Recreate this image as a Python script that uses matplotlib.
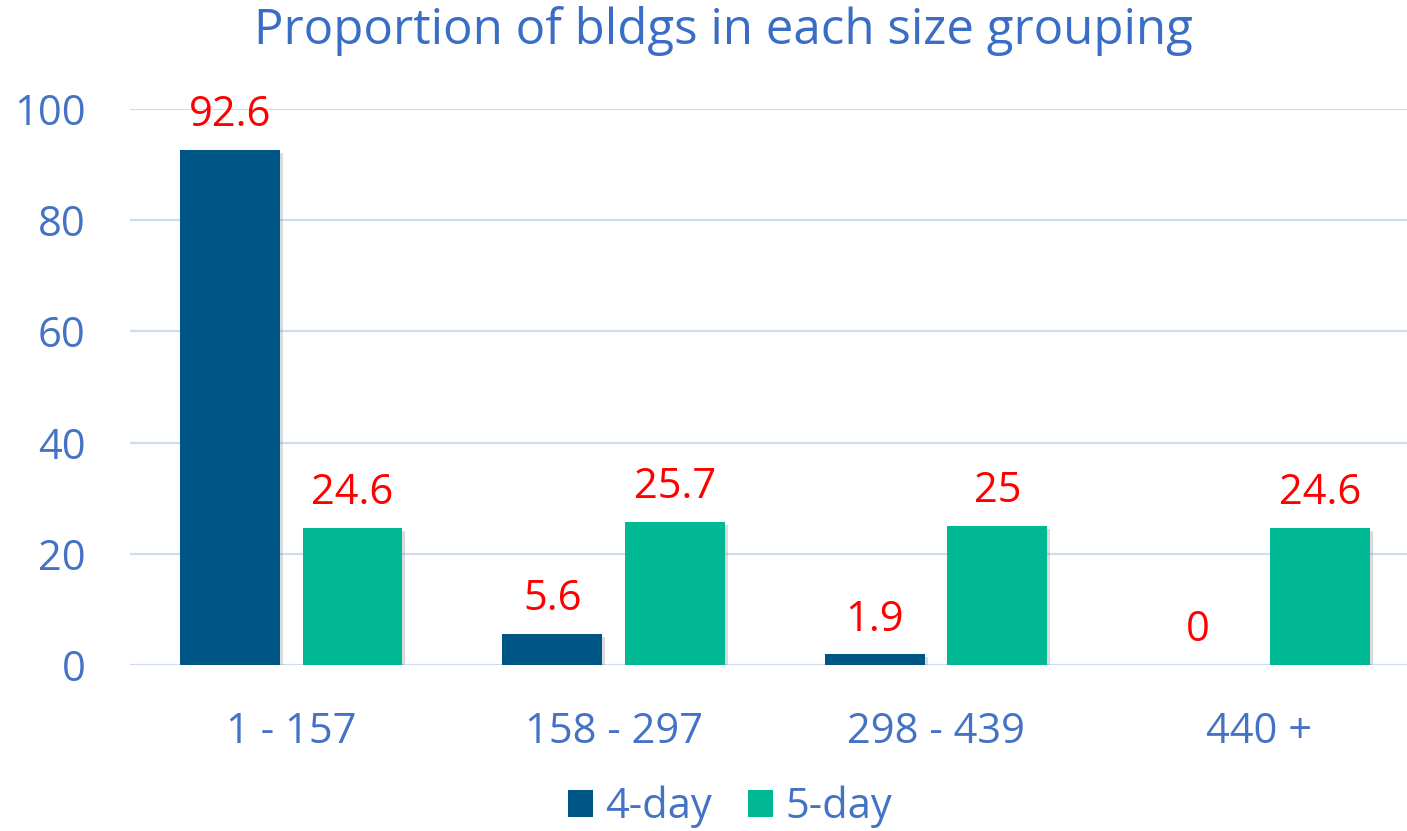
import matplotlib
matplotlib.use("Agg")
import matplotlib.pyplot as plt
import matplotlib.patheffects as pe
import numpy as np

categories = ["1 - 157", "158 - 297", "298 - 439", "440 +"]
series_names = ["4-day", "5-day"]
four_day = [92.6, 5.6, 1.9, 0]
five_day = [24.6, 25.7, 25, 24.6]
label_4 = ["92.6", "5.6", "1.9", "0"]
label_5 = ["24.6", "25.7", "25", "24.6"]
yticks = [0, 20, 40, 60, 80, 100]

plt.rcParams['font.family'] = ['Open Sans', 'DejaVu Sans']
plt.rcParams['font.weight'] = 'normal'
BLUE_TXT = "#4472C4"
TITLE_C = "#3A6DC6"
C4 = "#005587"
C5 = "#00B894"
GRID = "#CEDBF0"

fig = plt.figure(figsize=(14.07, 8.31), dpi=100)
ax = fig.add_axes([130/1407, 1-665/831, 1-130/1407, (665-109)/831])

x = np.arange(len(categories))
w = 0.31
off = 0.19
shadow = [pe.SimplePatchShadow(offset=(2, -2), shadow_rgbFace="#888888", alpha=0.3), pe.Normal()]
b1 = ax.bar(x - off, four_day, w, color=C4, zorder=3, path_effects=shadow)
b2 = ax.bar(x + off, five_day, w, color=C5, zorder=3, path_effects=shadow)

for xi, v, t in zip(x - off, four_day, label_4):
    ax.text(xi, v + 2.5, t, ha="center", va="bottom", color="#FF0000", fontsize=30, clip_on=False)
for xi, v, t in zip(x + off, five_day, label_5):
    ax.text(xi, v + 2.5, t, ha="center", va="bottom", color="#FF0000", fontsize=30, clip_on=False)

ax.set_ylim(0, 100)
ax.set_xlim(-0.5, 3.46)
ax.set_yticks(yticks)
ax.set_yticklabels([str(t) for t in yticks])
ax.set_xticks(x)
ax.set_xticklabels(categories)
ax.tick_params(axis="both", length=0, labelsize=30, labelcolor=BLUE_TXT)
ax.tick_params(axis="y", pad=32)
ax.tick_params(axis="x", pad=33)
ax.grid(axis="y", color=GRID, lw=1.6, zorder=0)
for s in ax.spines.values():
    s.set_visible(False)

fig.text(723/1407, 1-31/831, "Proportion of bldgs in each size grouping", ha="center", va="center",
         fontsize=35.5, color=TITLE_C)

leg = fig.legend([b1, b2], series_names, loc="center", bbox_to_anchor=(730/1407, 1-807/831), ncol=2,
                 frameon=False, fontsize=30, handlelength=0.6, handleheight=0.6, handletextpad=0.3,
                 columnspacing=0.86)
for t in leg.get_texts():
    t.set_color(BLUE_TXT)
for h in leg.legend_handles:
    h.set_path_effects([])

fig.savefig("out.png", dpi=100)
